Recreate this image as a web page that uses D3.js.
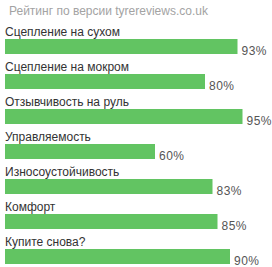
<!DOCTYPE html>
<html>
<head>
<meta charset="utf-8">
<script src="https://cdn.jsdelivr.net/npm/d3@7"></script>
<style>
body { margin: 0; background: #fff; }
text { font-family: Arial, "Liberation Sans", sans-serif; }
</style>
</head>
<body>
<svg width="272" height="267"></svg>
<script>
const width = 272
const height = 267

const title = "Рейтинг по версии tyrereviews.co.uk"
const categories = ["Сцепление на сухом", "Сцепление на мокром", "Отзывчивость на руль",
  "Управляемость", "Износоустойчивость", "Комфорт", "Купите снова?"]
const values = [93, 80, 95, 60, 83, 85, 90]

const x = d3.scaleLinear().domain([0, 100]).range([5, 255])
const y = d3.scaleBand().domain(categories).range([24, 24 + 35 * categories.length])

const svg = d3.select("svg")

svg.append("text")
  .attr("x", 9)
  .attr("y", 14.5)
  .attr("fill", "#a3a3a3")
  .style("font-size", "12px")
  .text(title)

const rows = svg.selectAll("g.row")
  .data(categories.map(function (c, i) { return { cat: c, val: values[i] } }))
  .enter()
  .append("g")
  .attr("class", "row")

rows.append("text")
  .attr("x", 5)
  .attr("y", function (d) { return y(d.cat) + 12 })
  .attr("fill", "#333")
  .style("font-size", "12px")
  .text(function (d) { return d.cat })

rows.append("rect")
  .attr("x", x(0))
  .attr("y", function (d) { return y(d.cat) + 15 })
  .attr("width", function (d) { return x(d.val) - x(0) })
  .attr("height", 15)
  .attr("fill", "#62c462")

rows.append("text")
  .attr("x", function (d) { return x(d.val) + 4 })
  .attr("y", function (d) { return y(d.cat) + 31 })
  .attr("fill", "#555")
  .style("font-size", "12px")
  .style("letter-spacing", "0.5px")
  .text(function (d) { return d.val + "%" })
</script>
</body>
</html>
